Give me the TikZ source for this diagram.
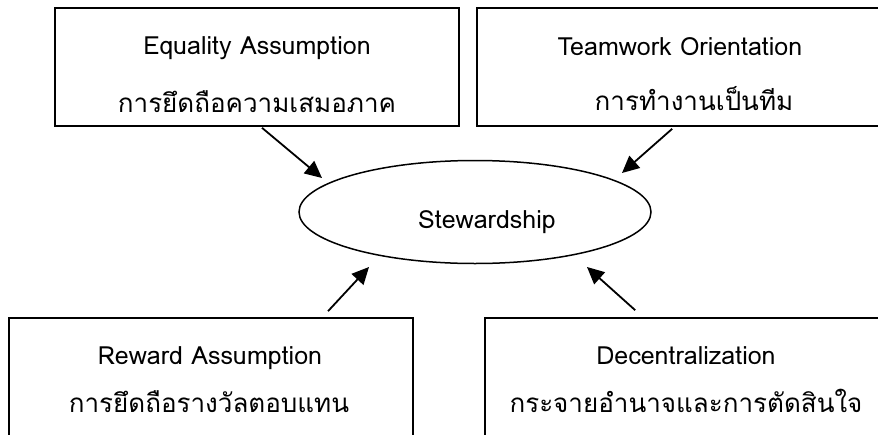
\documentclass[tikz,border=0pt]{standalone}
\usepackage{fontspec}
\usetikzlibrary{arrows.meta,shapes.geometric,calc}
\newfontfamily\thaifont[Script=Thai]{Loma}
\setmainfont{Loma}

\tikzset{
  frame/.style={draw=black, line width=1.6pt, inner sep=0pt},
  lbl/.style={anchor=base, inner sep=0pt, font=\fontsize{25}{28}\selectfont},
  thlbl/.style={anchor=base, inner sep=0pt, font=\thaifont\fontsize{26}{29}\selectfont},
  link/.style={line width=1.8pt, -{Triangle[length=17pt, width=16pt]}},
}

\begin{document}
\begin{tikzpicture}[x=1pt, y=-1pt]
  \useasboundingbox (0,0) rectangle (878,434);
  \clip (0,0) rectangle (878,434);

  % the four factor boxes (two of them run past the right edge)
  \node[frame, minimum width=404pt, minimum height=118pt] (eq) at (257,67) {};
  \node[frame, minimum width=440pt, minimum height=118pt] (tw) at (697,67) {};
  \node[frame, minimum width=404pt, minimum height=160pt] (rw) at (211,398) {};
  \node[frame, minimum width=440pt, minimum height=160pt] (dc) at (705,398) {};

  % central concept
  \node[ellipse, draw=black, line width=1.5pt, minimum width=352pt,
        minimum height=103pt, inner sep=0pt] (st) at (475,212) {};
  \node[lbl] (stTxt) at (487,228) {Stewardship};

  % box captions
  \node[lbl]   (eqEn) at (257,54)  {Equality Assumption};
  \node[thlbl] (eqTh) at (257,112) {การยึดถือความเสมอภาค};
  \node[lbl]   (twEn) at (680,55)  {Teamwork Orientation};
  \node[thlbl] (twTh) at (694,110) {การทำงานเป็นทีม};
  \node[lbl]   (rwEn) at (210,364) {Reward Assumption};
  \node[thlbl] (rwTh) at (209,412) {การยึดถือรางวัลตอบแทน};
  \node[lbl]   (dcEn) at (686,364) {Decentralization};
  \node[thlbl] (dcTh) at (686,412) {กระจายอำนาจและการตัดสินใจ};

  % arrow tips on the ellipse
  \coordinate (eqTip) at ($(st.center)+(-153,-34)$);
  \coordinate (twTip) at ($(st.center)+(147,-39)$);
  \coordinate (rwTip) at ($(st.center)+(-106,55)$);
  \coordinate (dcTip) at ($(st.center)+(112,55)$);

  \draw[link] ($(eq.south)+(5,1)$)  -- (eqTip);
  \draw[link] ($(tw.south west)+(196,2)$) -- (twTip);
  \draw[link] ($(rw.north)+(117,-6)$) -- (rwTip);
  \draw[link] ($(dc.north west)+(151,-7)$) -- (dcTip);
\end{tikzpicture}
\end{document}
